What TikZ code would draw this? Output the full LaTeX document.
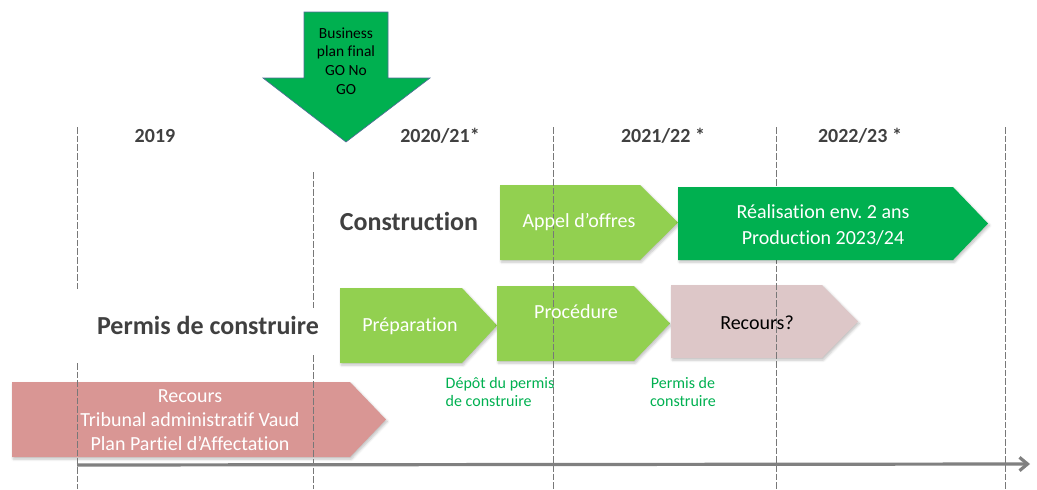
\documentclass[tikz,border=0pt]{standalone}
\usepackage{fontspec}
\setmainfont[Ligatures={NoCommon}]{Carlito}
\usetikzlibrary{arrows.meta,shadows.blur}
\definecolor{dkgreen}{RGB}{0,176,80}
\definecolor{ltgreen}{RGB}{146,208,80}
\definecolor{rosebox}{RGB}{217,150,148}
\definecolor{palerose}{RGB}{221,199,200}
\definecolor{txtgray}{RGB}{64,64,64}
\definecolor{linegray}{RGB}{120,120,120}
\definecolor{arrowgray}{RGB}{128,128,128}
\definecolor{edgeblue}{RGB}{80,110,150}
\newcommand{\chev}[6]{%
  \path[#6] (#1,#2) -- (#3,#2) -- (#5,{(#2+#4)/2}) -- (#3,#4) -- (#1,#4) -- cycle;}
\tikzset{
  chevshape/.style={fill=#1, blur shadow={shadow xshift=1pt, shadow yshift=-1.5pt, shadow blur steps=5, shadow opacity=25}},
  yearlbl/.style={font=\bfseries\fontsize{15}{18}\selectfont, text=txtgray},
  bigtitle/.style={font=\bfseries\fontsize{19.5}{23}\selectfont, text=txtgray},
  boxtxt/.style={font=\fontsize{15}{18.5}\selectfont, text=white, align=center},
  notetxt/.style={font=\fontsize{12}{13.5}\selectfont, text=dkgreen},
  gridline/.style={draw=linegray, line width=0.6pt, dash pattern=on 5pt off 1.5pt},
}
\frenchspacing
\begin{document}
\begin{tikzpicture}[x=0.75pt,y=-0.75pt]
\useasboundingbox (0,0) rectangle (1037,489);

% down arrow (decision)
\path[fill=dkgreen, draw=edgeblue, line width=0.5pt]
  (304,12) -- (388,12) -- (388,78) -- (430,78) -- (346,142) -- (263,78) -- (304,78) -- cycle;
\node[font=\fontsize{11.6}{14}\selectfont, align=center, text=black] (bp) at (346,61) {Business\\plan final\\GO No\\GO};

% year labels
\node[yearlbl] (y19) at (155,136) {2019};
\node[yearlbl] (y20) at (440,136) {2020/21*};
\node[yearlbl] (y21) at (663,136) {2021/22 *};
\node[yearlbl] (y22) at (860,136) {2022/23 *};

% row titles
\node[bigtitle] (constr) at (409,221) {Construction};
\node[bigtitle] (permis) at (208,325) {Permis de construire};

% bottom recours box
\chev{12}{382}{350}{457}{386}{chevshape=rosebox}
\node[boxtxt, font=\fontsize{15}{18}\selectfont] (recours) at (190,420) {Recours\\Tribunal administratif Vaud\\Plan Partiel d’Affectation};

% light green / pale boxes
\chev{500}{185}{640}{260}{678}{chevshape=ltgreen}
\chev{340}{288}{462}{363}{497}{chevshape=ltgreen}
\chev{497}{286}{634}{361}{670}{chevshape=ltgreen}
\chev{671}{285}{822}{358}{858}{chevshape=palerose}

% dashed year separators
\draw[gridline] (77,127) coordinate (a1) -- (77,289) coordinate (a2);
\draw[gridline] (77,363) coordinate (a3) -- (77,489) coordinate (a4);
\draw[gridline] (313,172) coordinate (b1) -- (313,308) coordinate (b2);
\draw[gridline] (313,355) coordinate (b3) -- (313,489) coordinate (b4);
\draw[gridline] (553,127) coordinate (c1) -- (553,489) coordinate (c2);
\draw[gridline] (776,127) coordinate (d1) -- (776,489) coordinate (d2);
\draw[gridline] (1005,127) coordinate (e1) -- (1005,489) coordinate (e2);

% dark green box (over the line)
\chev{678}{187}{953}{260}{988}{chevshape=dkgreen}

% box texts
\node[boxtxt] (appel) at (579,222) {Appel d’offres};
\node[boxtxt] (prep) at (410,326) {Préparation};
\node[boxtxt] (proc) at (576,312) {Procédure};
\node[boxtxt, text=black] (rec2) at (757,323) {Recours?};
\node[boxtxt, font=\fontsize{15}{19}\selectfont] (real) at (823,225) {Réalisation env. 2 ans\\Production 2023/24};

% notes
\node[notetxt, align=left, anchor=west] (depot) at (441,392) {Dépôt du permis\\de construire};
\node[notetxt, align=center] (pc) at (683,392) {Permis de\\construire};

% timeline
\coordinate (t0) at (77,465);
\coordinate (t1) at (1030,464);
\draw[arrowgray, line width=2.4pt, -{Straight Barb[length=6pt,width=10pt]}] (t0) -- (t1);
\end{tikzpicture}
\end{document}
